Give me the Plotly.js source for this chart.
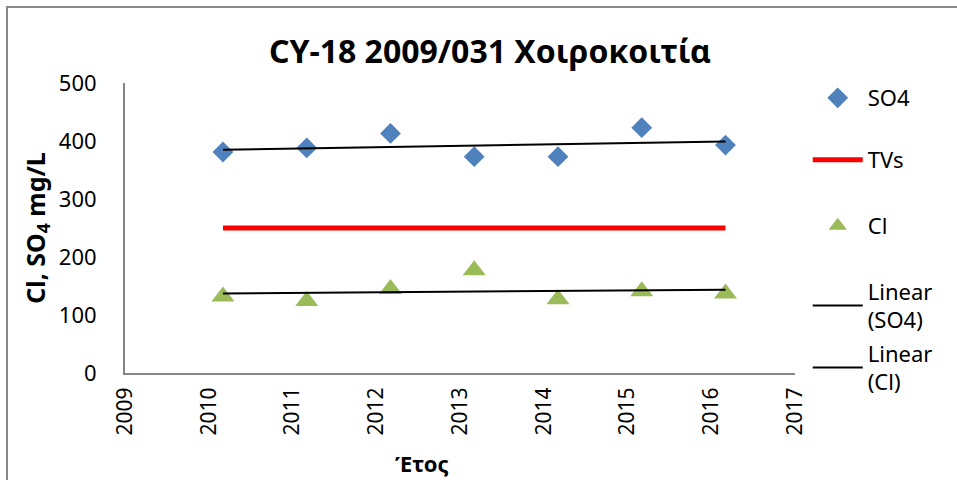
<!DOCTYPE html>
<html>
<head>
<meta charset="utf-8">
<script src="https://cdn.plot.ly/plotly-3.0.1.min.js"></script>
<style>html,body{margin:0;padding:0;background:#fff;}#chart{width:957px;height:480px;}</style>
</head>
<body>
<div id="chart"></div>
<script>
// Data
const years = [2010.17, 2011.17, 2012.17, 2013.17, 2014.17, 2015.17, 2016.17];
const so4 = [381, 388, 413, 373, 373, 423, 393];
const cl = [132, 124, 145, 177, 127, 141, 137];
const tvs = [250, 250, 250, 250, 250, 250, 250];
const xTicks = [2009, 2010, 2011, 2012, 2013, 2014, 2015, 2016, 2017];
const yTicks = [0, 100, 200, 300, 400, 500];

function linFit(xs, ys) {
  const n = xs.length;
  const mx = xs.reduce((a, b) => a + b, 0) / n;
  const my = ys.reduce((a, b) => a + b, 0) / n;
  let sxy = 0, sxx = 0;
  for (let i = 0; i < n; i++) { sxy += (xs[i] - mx) * (ys[i] - my); sxx += (xs[i] - mx) ** 2; }
  const m = sxy / sxx, b = my - m * mx;
  const x0 = xs[0], x1 = xs[n - 1];
  return { x: [x0, x1], y: [m * x0 + b, m * x1 + b] };
}
const fitSO4 = linFit(years, so4);
const fitCl = linFit(years, cl);

const FONT = '"Noto Sans", "DejaVu Sans", sans-serif';

const traces = [
  { x: years, y: so4, name: 'SO4', mode: 'markers', type: 'scatter',
    marker: { symbol: 'diamond', size: 16, color: '#4F81BD' }, legend: 'legend' },
  { x: years, y: tvs, name: 'TVs', mode: 'lines', type: 'scatter',
    line: { color: '#FF0000', width: 5 }, legend: 'legend2' },
  { x: years, y: cl, name: 'Cl', mode: 'markers', type: 'scatter',
    marker: { symbol: 'triangle-up', size: 20, color: '#9BBB59' }, legend: 'legend3' },
  { x: fitSO4.x, y: fitSO4.y, name: 'Linear<br>(SO4)', mode: 'lines', type: 'scatter',
    line: { color: '#000000', width: 2 }, legend: 'legend4' },
  { x: fitCl.x, y: fitCl.y, name: 'Linear<br>(Cl)', mode: 'lines', type: 'scatter',
    line: { color: '#000000', width: 2 }, legend: 'legend5' }
];

function leg(y) {
  return { x: 1.019, xanchor: 'left', y: y, yanchor: 'middle', xref: 'paper', yref: 'paper',
    font: { family: FONT, size: 22, color: '#000' }, itemwidth: 50,
    bgcolor: 'rgba(0,0,0,0)', borderwidth: 0 };
}

const layout = {
  width: 957, height: 480,
  margin: { l: 125, r: 162, t: 83, b: 107 },
  paper_bgcolor: '#fff', plot_bgcolor: '#fff',
  font: { family: FONT, color: '#000' },
  title: { text: '<b>CY-18 2009/031 Χοιροκοιτία</b>', x: 0.512, xref: 'container', xanchor: 'center',
    y: 0.892, yref: 'container', yanchor: 'middle', font: { family: FONT, size: 32, color: '#000' } },
  xaxis: { range: [2009, 2017], tickmode: 'array', tickvals: xTicks, ticktext: xTicks.map(String),
    tickangle: -90, showgrid: false, zeroline: false, showline: true, linecolor: '#868686', linewidth: 2,
    ticks: '', ticklabelstandoff: 4, tickfont: { family: FONT, size: 21, color: '#000' } },
  yaxis: { range: [0, 500], tickmode: 'array', tickvals: yTicks, ticktext: yTicks.map(String),
    showgrid: false, zeroline: false, showline: true, linecolor: '#868686', linewidth: 2,
    ticks: '', ticklabelstandoff: 22, tickfont: { family: FONT, size: 22, color: '#000' },
    title: { text: '<b>Cl, SO<sub>4</sub> mg/L</b>', standoff: 6, font: { family: FONT, size: 25, color: '#000' } } },
  annotations: [
    { text: '<b>Έτος</b>', xref: 'paper', yref: 'paper', x: (422 - 125) / 670, y: (373 - 463) / 290,
      xanchor: 'center', yanchor: 'middle', showarrow: false, font: { family: FONT, size: 22, color: '#000' } }
  ],
  shapes: [
    { type: 'rect', xref: 'paper', yref: 'paper', x0: (7 - 125) / 670, x1: 1.3, y0: -0.5, y1: (373 - 7) / 290,
      line: { color: '#898989', width: 2 }, fillcolor: 'rgba(0,0,0,0)', layer: 'above' }
  ],
  legend: leg((373 - 98) / 290),
  legend2: leg((373 - 160) / 290),
  legend3: leg((373 - 226) / 290),
  legend4: leg((373 - 306) / 290),
  legend5: leg((373 - 368) / 290),
  showlegend: true
};

Plotly.newPlot('chart', traces, layout, { displayModeBar: false, staticPlot: true });
</script>
</body>
</html>
